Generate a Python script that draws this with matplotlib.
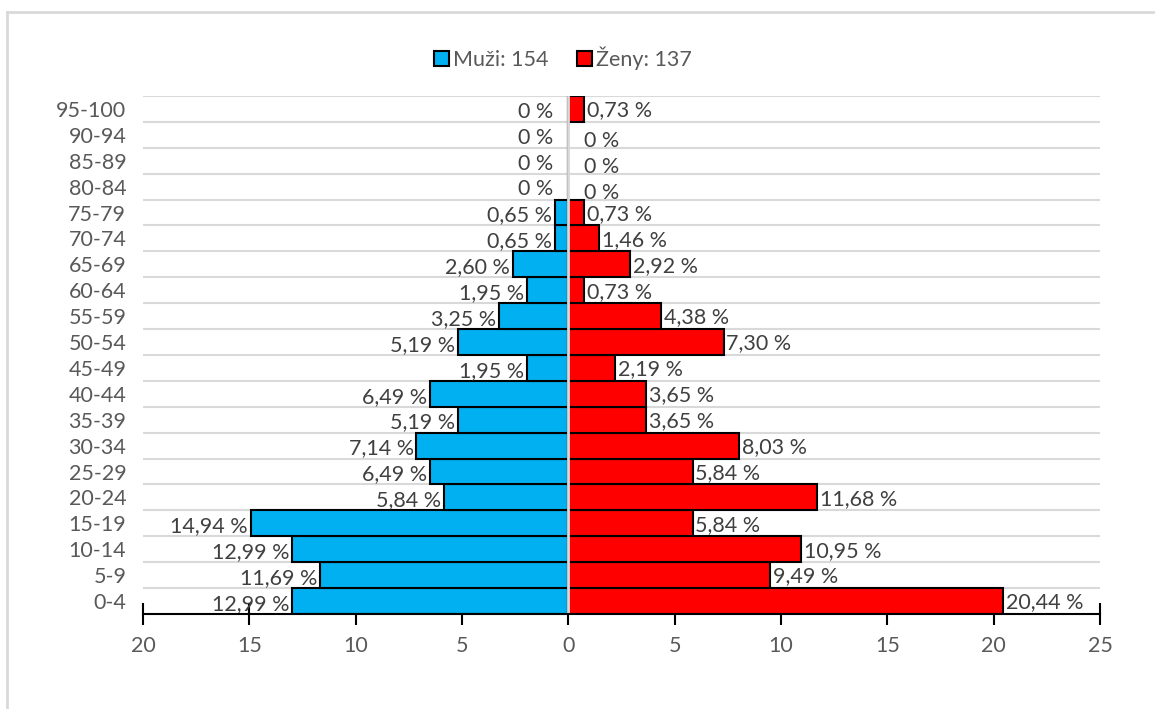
"""Věková pyramida: muži vlevo, ženy vpravo, hodnoty v procentech."""
import matplotlib
matplotlib.use("Agg")
import matplotlib.pyplot as plt
import numpy as np
from matplotlib.lines import Line2D

# -----------------------------
# 1. Data
# -----------------------------
age_groups = ["0-4", "5-9", "10-14", "15-19", "20-24", "25-29", "30-34", "35-39",
              "40-44", "45-49", "50-54", "55-59", "60-64", "65-69", "70-74",
              "75-79", "80-84", "85-89", "90-94", "95-100"]
men_pct = [12.99, 11.69, 12.99, 14.94, 5.84, 6.49, 7.14, 5.19, 6.49, 1.95,
           5.19, 3.25, 1.95, 2.60, 0.65, 0.65, 0.0, 0.0, 0.0, 0.0]
women_pct = [20.44, 9.49, 10.95, 5.84, 11.68, 5.84, 8.03, 3.65, 3.65, 2.19,
             7.30, 4.38, 0.73, 2.92, 1.46, 0.73, 0.0, 0.0, 0.0, 0.73]
men_label = "Muži: 154"
women_label = "Ženy: 137"
x_ticks = [-20, -15, -10, -5, 0, 5, 10, 15, 20, 25]

BLUE = "#00B0F0"
RED = "#FF0000"
TEXT = "#595959"
LABEL = "#404040"
GRID = "#D9D9D9"
FS = 15.5

plt.rcParams["font.family"] = ["Lato", "DejaVu Sans"]
plt.rcParams["font.size"] = FS


def fmt(v: float) -> str:
    """Excel-like český formát: 12,99 % / 0 %."""
    if v == 0:
        return "0 %"
    return f"{v:.2f}".replace(".", ",") + " %"


fig = plt.figure(figsize=(11.55, 7.09), dpi=100)
ax = fig.add_axes([0.1238, 0.134, 0.8286, 0.7306])

y = np.arange(len(age_groups))
men = np.array(men_pct)
women = np.array(women_pct)

# -----------------------------
# 2. Sloupce (gap width = 0)
# -----------------------------
ax.barh(y, -men, height=1.0, color=BLUE, edgecolor="black", linewidth=1.5,
        label=men_label, zorder=2)
ax.barh(y, women, height=1.0, color=RED, edgecolor="black", linewidth=1.5,
        label=women_label, zorder=2)

# svislá osa v nule přes sloupce
ax.axvline(0, color=GRID, linewidth=2, zorder=3)

# vodorovné mřížky na hranicích kategorií
for b in np.arange(0.5, len(age_groups) - 0.4, 1.0):
    ax.axhline(b, color=GRID, linewidth=1.5, zorder=1)

# -----------------------------
# 3. Popisky hodnot
# -----------------------------
for yi, v in zip(y, men):
    dx = -11 if v == 0 else -2
    ax.annotate(fmt(v), (-v, yi), xytext=(dx, -2), textcoords="offset points",
                ha="right", va="center", color=LABEL, fontsize=FS)
for yi, v in zip(y, women):
    dx = 11 if v == 0 else 2
    dy = -4.5 if v == 0 else -1
    ax.annotate(fmt(v), (v, yi), xytext=(dx, dy), textcoords="offset points",
                ha="left", va="center", color=LABEL, fontsize=FS)

# -----------------------------
# 4. Osy
# -----------------------------
ax.set_xlim(-20, 25)
ax.set_ylim(-0.5, len(age_groups) - 0.5)
ax.set_xticks(x_ticks)
ax.set_xticklabels([str(abs(t)) for t in x_ticks], color=TEXT)
ax.set_yticks(y)
ax.set_yticklabels(age_groups, color=TEXT)

for side in ["top", "right", "left"]:
    ax.spines[side].set_visible(False)
ax.spines["bottom"].set_color("black")
ax.spines["bottom"].set_linewidth(1.5)
ax.spines["bottom"].set_zorder(4)
ax.tick_params(axis="x", direction="inout", length=16, width=1.5, color="black", pad=8)
ax.tick_params(axis="y", length=0, pad=12)

leg = fig.legend(*ax.get_legend_handles_labels(), loc="center",
                 bbox_to_anchor=(563 / 1155, 1 - 58 / 709), ncol=2, frameon=False,
                 handlelength=0.7, handleheight=0.7, handletextpad=0.2,
                 columnspacing=1.3, fontsize=FS)
for t in leg.get_texts():
    t.set_color(TEXT)

# světlý rámeček grafu (nahoře a vlevo)
fig.add_artist(Line2D([7 / 1155, 1.0], [1 - 12 / 709, 1 - 12 / 709],
                      color=GRID, linewidth=2, transform=fig.transFigure))
fig.add_artist(Line2D([7 / 1155, 7 / 1155], [0.0, 1 - 12 / 709],
                      color=GRID, linewidth=2, transform=fig.transFigure))

fig.savefig("out.png", dpi=100, facecolor="white")
